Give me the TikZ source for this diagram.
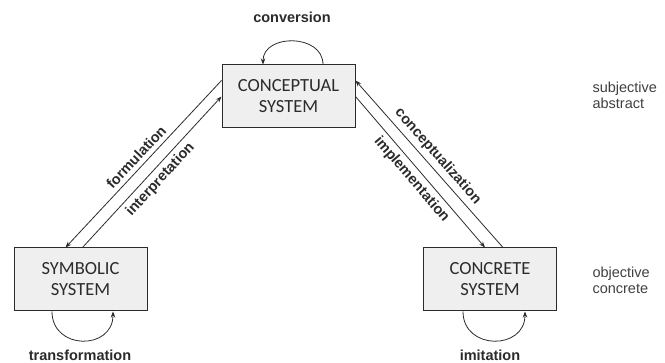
\documentclass[tikz,border=0pt]{standalone}
\usepackage{fontspec}
\setmainfont{Liberation Sans}
\newfontfamily\boxfont{Carlito}
\usetikzlibrary{arrows.meta, positioning, calc}
\definecolor{boxfill}{HTML}{EFEFEF}
\definecolor{edge}{HTML}{2B2B2B}

\begin{document}
\begin{tikzpicture}[
  x=1pt, y=-1pt,
  sys/.style={draw=edge, line width=1pt, fill=boxfill, minimum width=133pt, minimum height=63pt,
    align=center, text=edge, font=\boxfont\fontsize{18.5}{21}\selectfont},
  flow/.style={edge, line width=0.8pt, -{Stealth[length=6pt, width=4.5pt]}},
  lbl/.style={text=edge, font=\bfseries\fontsize{14.5}{16}\selectfont},
  side/.style={anchor=west, align=left, text=black!75, font=\fontsize{14.5}{16}\selectfont}
]
\useasboundingbox (0,0) rectangle (665,363);
\node[sys] (conceptual) at (288.5,96.5) {CONCEPTUAL\\SYSTEM};
\node[sys] (symbolic) at (80.5,279.5) {SYMBOLIC\\SYSTEM};
\node[sys] (concrete) at (490,279.5) {CONCRETE\\SYSTEM};
% self loops
\draw[flow] ([xshift=34.5pt]conceptual.north) .. controls +(0,-31) and +(0,-31) .. ([xshift=-25.5pt]conceptual.north);
\draw[flow] ([xshift=-28.5pt]symbolic.south) .. controls +(0,39) and +(0,39) .. ([xshift=32.5pt]symbolic.south);
\draw[flow] ([xshift=-27pt]concrete.south) .. controls +(0,39) and +(0,39) .. ([xshift=35pt]concrete.south);
\node[lbl] (conversion) at (292,17) {conversion};
\node[lbl] (transformation) at (80,355) {transformation};
\node[lbl] (imitation) at (490,355) {imitation};
% links between the systems
\draw[flow] ([yshift=16pt]conceptual.west) -- node[lbl, sloped, above=1pt] {formulation} ([xshift=-15pt]symbolic.north);
\draw[flow] ([xshift=2pt]symbolic.north) -- node[lbl, sloped, below=1pt] {interpretation} (conceptual.west);
\draw[flow] (conceptual.east) -- node[lbl, sloped, below=1pt] {implementation} ([xshift=-5pt]concrete.north);
\draw[flow] ([xshift=13pt]concrete.north) -- node[lbl, sloped, above=1pt] {conceptualization} ([yshift=16pt]conceptual.east);
\node[side] (abstract) at (589,95) {subjective\\abstract};
\node[side] (objective) at (589,280) {objective\\concrete};
\end{tikzpicture}
\end{document}
